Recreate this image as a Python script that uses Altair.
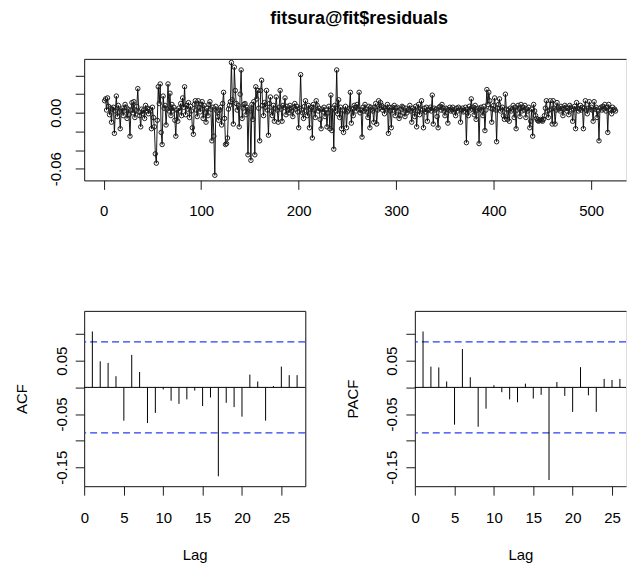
import altair as alt
import pandas as pd

FONT = "Liberation Sans"
INK = "#1a1a1a"
BLUE = "#2b3cf0"

title_text = "fitsura@fit$residuals"

# residuals, in thousandths
resid_milli = (
    [13, 15, 3, 16, 7, -2, 5, -10, 4, 6, -22, 2, 18, -4, 8, 1, -17, 3, 5, -3, 2, 9, 6, -6, 4]
    + [-2, -25, 3, 11, 0, 12, -5, 2, 7, 26, 1, -3, -15, 4, -1, 3, -6, 8, 2, 5, -1, 4, 2, -17, 6]
    + [-5, -15, -44, -54, -8, 28, 10, 31, -21, -34, 18, 5, 8, -13, 4, 31, 2, 21, -3, 9, 2, 6, -8, -25, 3]
    + [-9, 5, 2, 10, -3, 16, 6, 28, -2, 8, 4, 11, -5, 7, 2, -16, -23, 9, 13, 3, -4, 13, 6, 1, 9]
    + [12, -6, 8, 0, -10, 5, -3, 9, 12, 4, -30, 6, -25, -67, 7, 2, -4, -8, 3, 6, -13, 10, 22, -6, -34]
    + [-33, -27, 4, 8, 12, 54, 14, -12, 49, 24, 10, 3, 8, -15, 20, 46, -6, 5, 9, 10, -2, 6, -45, 4, 2]
    + [-51, 9, -7, 12, -45, 28, 15, 24, 5, -30, 24, 35, 8, -3, 11, 6, 24, 3, -24, 10, 17, 2, -3, 8, -9]
    + [5, 17, 3, -10, 6, 24, 4, -9, 8, 6, 16, -2, 7, 3, 0, 8, 5, 2, -4, 6, 10, 4, 7, 1, -16]
    + [5, 41, 3, 0, -6, 7, 13, 2, -3, 8, -16, 4, 6, -27, 9, 3, -5, 13, 8, 2, 5, -7, -17, 4, 1]
    + [6, -4, 3, -15, 0, 7, -17, 19, -19, 5, -39, 8, 2, 46, -1, 14, -5, 6, -17, 3, -21, 2, 7, -16, 1]
    + [3, 5, 22, -11, 4, -3, 8, 6, 2, 9, 4, 22, 0, 3, -26, 6, 2, 9, 4, 1, -5, 7, -16, 6, 4]
    + [2, -10, 6, 10, -12, 3, 13, 5, 11, 8, 3, 6, -1, 5, 4, 9, -22, 6, 2, -16, 6, 3, 8, -3, 5]
    + [6, 2, -6, -3, 4, 7, 6, 0, -4, 5, 0, 3, 4, 8, 2, -10, 5, 3, -4, 7, -15, 2, 9, -2, 4]
    + [13, 3, -16, 5, 1, 6, -9, 3, 4, 6, 2, 19, -12, 5, 3, 4, -4, -16, 6, 7, 3, 9, 5, 2, -3]
    + [5, 4, -11, 3, 6, 2, 4, 6, 1, 3, -3, 5, 2, 6, 4, -10, 3, 5, 1, 2, 6, -32, 4, -3, 7]
    + [3, 15, 4, 6, -2, 8, -7, 3, 5, -33, 4, 6, 2, -3, 7, -19, 3, 25, 9, 22, 13, 5, -10, 4, 8]
    + [16, 3, -31, 5, 9, 15, 2, 4, 6, -3, -7, 20, 4, -7, 3, -9, 5, 2, 4, 8, -5, 6, -17, 3, 8]
    + [5, -4, 9, 2, 6, 3, 8, -5, 4, 2, 6, -16, -9, 4, -25, 9, 2, -3, -6, -8, -9, -8, -7, -8, -9]
    + [-7, -3, 5, 13, 2, -5, 3, 13, 4, -12, 13, 5, -12, 3, 11, 6, 4, 2, 7, 5, -3, 4, 8, 6, 2]
    + [5, -2, 8, 6, 3, -9, 4, 7, -17, 11, 5, 2, 4, 8, 3, 6, -17, 5, 13, 3, -1, 5, 12, 4, 6]
    + [3, -9, 12, 4, 6, -5, 2, -30, 5, 6, 3, 7, 4, 9, 2, 6, -21, 9, 4, 3, -1, 6, 3, 4, 2]
)
resid = [v / 1000 for v in resid_milli]
time_index = list(range(1, len(resid) + 1))

acf_lags = list(range(1, 28))
acf_vals = [0.105, 0.049, 0.046, 0.021, -0.0625, 0.061, 0.029, -0.067, -0.048, -0.004,
            -0.025, -0.031, -0.0225, -0.006, -0.035, -0.019, -0.167, -0.029, -0.037, -0.055,
            0.024, 0.011, -0.0625, 0.0025, 0.039, 0.023, 0.023]
pacf_lags = list(range(1, 27))
pacf_vals = [0.105, 0.039, 0.0375, 0.011, -0.070, 0.072, 0.019, -0.074, -0.040, 0.004,
             -0.009, -0.0225, -0.028, 0.007, -0.021, -0.014, -0.174, 0.010, -0.016, -0.046,
             0.038, -0.015, -0.046, 0.016, 0.014, 0.016]
conf_limit = 0.0855

top_x_ticks = [0, 100, 200, 300, 400, 500]
top_x_labels = ["0", "100", "200", "300", "400", "500"]
top_y_ticks = [0.04, 0.02, 0.0, -0.02, -0.04, -0.06]
top_y_labels = ["", "", "0.00", "", "", "-0.06"]
lag_ticks = [0, 5, 10, 15, 20, 25]
lag_labels = ["0", "5", "10", "15", "20", "25"]
cf_y_ticks = [0.10, 0.05, 0.0, -0.05, -0.10, -0.15]
cf_y_labels = ["", "0.05", "", "-0.05", "", "-0.15"]


def lab_expr(ticks, labels):
    expr = "''"
    for t, l in zip(ticks, labels):
        if l:
            expr = f"abs(datum.value - ({t})) < 1e-9 ? '{l}' : ({expr})"
    return expr


def common(**kw):
    base = dict(grid=False, domain=True, domainColor=INK, domainWidth=1,
                tickColor=INK, tickWidth=1, labelFont=FONT, labelFontSize=15,
                labelColor="black", titleFont=FONT, titleFontSize=15,
                titleFontWeight="normal", titleColor="black",
                labelFlush=False, labelOverlap=False)
    base.update(kw)
    return alt.Axis(**base)


def bottom_axis(ticks, labels, title, label_pad, title_pad=20):
    kw = dict(orient="bottom", values=ticks, labelExpr=lab_expr(ticks, labels),
              tickSize=9, labelPadding=label_pad)
    if title:
        kw.update(title=title, titlePadding=title_pad)
    else:
        kw.update(title=None)
    return common(**kw)


def left_axis(ticks, labels, title, label_pad, title_pad=20):
    kw = dict(orient="left", values=ticks, labelExpr=lab_expr(ticks, labels),
              tickSize=9, labelPadding=label_pad, labelAngle=270,
              labelAlign="center", labelBaseline="bottom")
    if title:
        kw.update(title=title, titlePadding=title_pad)
    else:
        kw.update(title=None)
    return common(**kw)


def frame_axis(orient):
    return common(orient=orient, ticks=False, labels=False, title=None)


# ---------- top panel ----------
df_top = pd.DataFrame({"t": time_index, "resid": resid})
xs_top = alt.Scale(domain=[-20, 535.7], nice=False, zero=False)
ys_top = alt.Scale(domain=[-0.0725, 0.0579], nice=False, zero=False)

top_line = alt.Chart(df_top).mark_line(color="black", strokeWidth=0.9).encode(
    x=alt.X("t:Q", scale=xs_top, axis=bottom_axis(top_x_ticks, top_x_labels, None, 14)),
    y=alt.Y("resid:Q", scale=ys_top, axis=left_axis(top_y_ticks, top_y_labels, None, 12)),
)
top_pts = alt.Chart(df_top).mark_point(shape="circle", filled=False, size=20, color="#1e1e1e",
                                       strokeWidth=1, opacity=1).encode(
    x=alt.X("t:Q", scale=xs_top, axis=frame_axis("top")),
    y=alt.Y("resid:Q", scale=ys_top, axis=None),
)
top = alt.layer(top_line, top_pts).resolve_axis(x="independent", y="independent").properties(
    width=544, height=122,
    title=alt.TitleParams(text=title_text, fontSize=18, fontWeight="bold", font=FONT,
                          anchor="middle", offset=30, dx=4, color="black"),
)


# ---------- ACF / PACF panels ----------
def cf_panel(lags, vals, ytitle, width, xmax, show_right):
    df = pd.DataFrame({"lag": lags, "value": vals, "base": [0.0] * len(lags)})
    xs = alt.Scale(domain=[-0.04, xmax], nice=False, zero=False)
    ys = alt.Scale(domain=[-0.1856, 0.1437], nice=False, zero=False)
    bars = alt.Chart(df).mark_rule(color="black", strokeWidth=1).encode(
        x=alt.X("lag:Q", scale=xs, axis=bottom_axis(lag_ticks, lag_labels, "Lag", 15, 23)),
        y=alt.Y("value:Q", scale=ys, axis=left_axis(cf_y_ticks, cf_y_labels, ytitle, 6, 24.5)),
        y2="base:Q",
    )
    frame = alt.Chart(df).mark_rule(opacity=0).encode(
        x=alt.X("lag:Q", scale=xs, axis=frame_axis("top")),
        y=alt.Y("value:Q", scale=ys, axis=frame_axis("right") if show_right else None),
        y2="base:Q",
    )
    zero_df = pd.DataFrame({"h": [0.0]})
    ci_df = pd.DataFrame({"h": [conf_limit, -conf_limit]})
    zero = alt.Chart(zero_df).mark_rule(color="black", strokeWidth=1).encode(
        y=alt.Y("h:Q", scale=ys, axis=None))
    blue = alt.Chart(ci_df).mark_rule(color=BLUE, strokeWidth=1.3, strokeDash=[7, 4]).encode(
        y=alt.Y("h:Q", scale=ys, axis=None))
    return alt.layer(blue, zero, bars, frame).resolve_axis(
        x="independent", y="independent").properties(width=width, height=176)


acf = cf_panel(acf_lags, acf_vals, "ACF", 222, 28.04, True)
pacf = cf_panel(pacf_lags, pacf_vals, "PACF", 212, 26.776, False)

chart = alt.vconcat(
    top,
    alt.hconcat(acf, pacf, spacing=110, bounds="flush"),
    spacing=131,
    bounds="flush",
).properties(
    padding={"left": 14.5, "top": 8, "right": 0, "bottom": 0},
).configure_view(stroke=None).configure(font=FONT, background="white")

chart.save("out.html", embed_options={"renderer": "svg", "actions": False})
